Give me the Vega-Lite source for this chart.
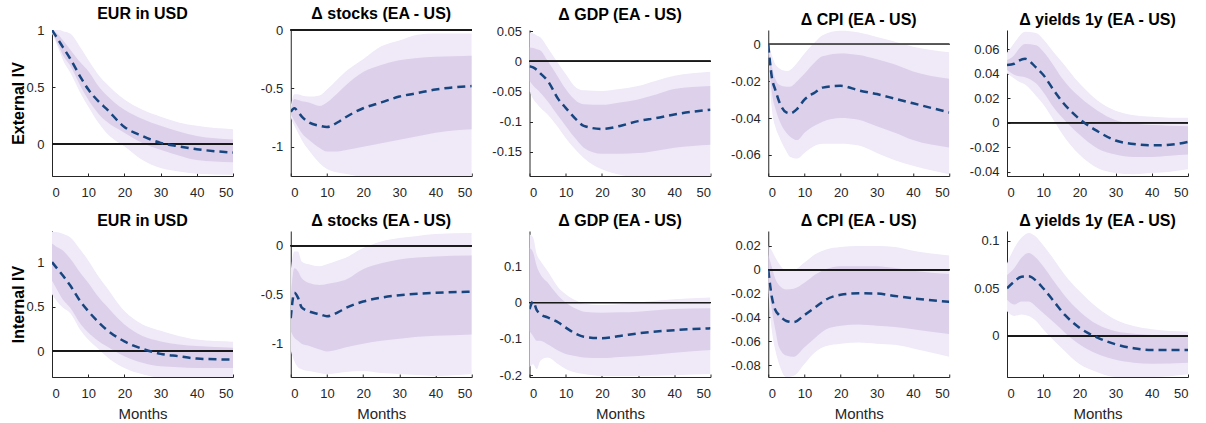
{
"$schema":"https://vega.github.io/schema/vega-lite/v6.json",
"background":"white",
"padding":{"left":9,"top":6,"right":5,"bottom":5},
"bounds":"flush",
"columns":5,
"spacing":{"row":55,"column":57.75},
"datasets":{"d":[
{"p":1,"m":0,"lo90":0.97,"lo68":0.98,"irf":1,"hi68":1,"hi90":1},
{"p":1,"m":1,"lo90":0.9,"lo68":0.92,"irf":0.95,"hi68":0.98,"hi90":1},
{"p":1,"m":2,"lo90":0.82,"lo68":0.85,"irf":0.9,"hi68":0.95,"hi90":1},
{"p":1,"m":3,"lo90":0.74,"lo68":0.78,"irf":0.85,"hi68":0.91,"hi90":0.99},
{"p":1,"m":5,"lo90":0.63,"lo68":0.69,"irf":0.75,"hi68":0.83,"hi90":0.97},
{"p":1,"m":8,"lo90":0.44,"lo68":0.5,"irf":0.58,"hi68":0.71,"hi90":0.84},
{"p":1,"m":10,"lo90":0.33,"lo68":0.39,"irf":0.48,"hi68":0.64,"hi90":0.74},
{"p":1,"m":13,"lo90":0.18,"lo68":0.26,"irf":0.37,"hi68":0.5,"hi90":0.6},
{"p":1,"m":15,"lo90":0.1,"lo68":0.2,"irf":0.31,"hi68":0.43,"hi90":0.53},
{"p":1,"m":20,"lo90":-0.02,"lo68":0.1,"irf":0.15,"hi68":0.3,"hi90":0.39},
{"p":1,"m":25,"lo90":-0.14,"lo68":0.01,"irf":0.07,"hi68":0.22,"hi90":0.3},
{"p":1,"m":30,"lo90":-0.21,"lo68":-0.05,"irf":0.01,"hi68":0.16,"hi90":0.24},
{"p":1,"m":35,"lo90":-0.24,"lo68":-0.1,"irf":-0.02,"hi68":0.11,"hi90":0.19},
{"p":1,"m":40,"lo90":-0.26,"lo68":-0.14,"irf":-0.045,"hi68":0.07,"hi90":0.16},
{"p":1,"m":50,"lo90":-0.27,"lo68":-0.16,"irf":-0.075,"hi68":0.04,"hi90":0.13},

{"p":2,"m":0,"lo90":-0.75,"lo68":-0.72,"irf":-0.7,"hi68":-0.68,"hi90":-0.65},
{"p":2,"m":1,"lo90":-0.82,"lo68":-0.78,"irf":-0.67,"hi68":-0.59,"hi90":-0.55},
{"p":2,"m":2,"lo90":-0.88,"lo68":-0.83,"irf":-0.7,"hi68":-0.6,"hi90":-0.55},
{"p":2,"m":3,"lo90":-0.94,"lo68":-0.88,"irf":-0.74,"hi68":-0.61,"hi90":-0.56},
{"p":2,"m":5,"lo90":-1.03,"lo68":-0.94,"irf":-0.79,"hi68":-0.62,"hi90":-0.57},
{"p":2,"m":8,"lo90":-1.14,"lo68":-1.01,"irf":-0.82,"hi68":-0.65,"hi90":-0.56},
{"p":2,"m":10,"lo90":-1.19,"lo68":-1.04,"irf":-0.83,"hi68":-0.62,"hi90":-0.51},
{"p":2,"m":13,"lo90":-1.22,"lo68":-1.04,"irf":-0.79,"hi68":-0.54,"hi90":-0.42},
{"p":2,"m":15,"lo90":-1.23,"lo68":-1.03,"irf":-0.75,"hi68":-0.48,"hi90":-0.36},
{"p":2,"m":20,"lo90":-1.26,"lo68":-1.0,"irf":-0.67,"hi68":-0.36,"hi90":-0.25},
{"p":2,"m":25,"lo90":-1.27,"lo68":-0.97,"irf":-0.62,"hi68":-0.3,"hi90":-0.14},
{"p":2,"m":30,"lo90":-1.27,"lo68":-0.94,"irf":-0.57,"hi68":-0.26,"hi90":-0.09},
{"p":2,"m":35,"lo90":-1.27,"lo68":-0.91,"irf":-0.54,"hi68":-0.24,"hi90":-0.04},
{"p":2,"m":40,"lo90":-1.27,"lo68":-0.88,"irf":-0.51,"hi68":-0.23,"hi90":-0.03},
{"p":2,"m":50,"lo90":-1.27,"lo68":-0.85,"irf":-0.48,"hi68":-0.22,"hi90":-0.03},

{"p":3,"m":0,"lo90":-0.049,"lo68":-0.032,"irf":-0.008,"hi68":0.023,"hi90":0.048},
{"p":3,"m":1,"lo90":-0.062,"lo68":-0.04,"irf":-0.01,"hi68":0.022,"hi90":0.046},
{"p":3,"m":2,"lo90":-0.07,"lo68":-0.046,"irf":-0.014,"hi68":0.02,"hi90":0.043},
{"p":3,"m":3,"lo90":-0.077,"lo68":-0.052,"irf":-0.02,"hi68":0.018,"hi90":0.04},
{"p":3,"m":5,"lo90":-0.088,"lo68":-0.066,"irf":-0.032,"hi68":0.001,"hi90":0.023},
{"p":3,"m":8,"lo90":-0.11,"lo68":-0.091,"irf":-0.063,"hi68":-0.027,"hi90":-0.004},
{"p":3,"m":10,"lo90":-0.127,"lo68":-0.107,"irf":-0.077,"hi68":-0.046,"hi90":-0.021},
{"p":3,"m":13,"lo90":-0.148,"lo68":-0.13,"irf":-0.097,"hi68":-0.066,"hi90":-0.044},
{"p":3,"m":15,"lo90":-0.16,"lo68":-0.143,"irf":-0.107,"hi68":-0.071,"hi90":-0.048},
{"p":3,"m":20,"lo90":-0.179,"lo68":-0.153,"irf":-0.112,"hi68":-0.072,"hi90":-0.049},
{"p":3,"m":25,"lo90":-0.188,"lo68":-0.153,"irf":-0.107,"hi68":-0.068,"hi90":-0.046},
{"p":3,"m":30,"lo90":-0.192,"lo68":-0.152,"irf":-0.099,"hi68":-0.063,"hi90":-0.041},
{"p":3,"m":35,"lo90":-0.192,"lo68":-0.148,"irf":-0.094,"hi68":-0.055,"hi90":-0.032},
{"p":3,"m":40,"lo90":-0.192,"lo68":-0.143,"irf":-0.088,"hi68":-0.046,"hi90":-0.024},
{"p":3,"m":50,"lo90":-0.192,"lo68":-0.138,"irf":-0.08,"hi68":-0.041,"hi90":-0.017},

{"p":4,"m":0,"lo90":-0.004,"lo68":-0.003,"irf":0,"hi68":0,"hi90":0},
{"p":4,"m":1,"lo90":-0.035,"lo68":-0.026,"irf":-0.018,"hi68":-0.012,"hi90":-0.006},
{"p":4,"m":2,"lo90":-0.045,"lo68":-0.035,"irf":-0.025,"hi68":-0.019,"hi90":-0.011},
{"p":4,"m":3,"lo90":-0.05,"lo68":-0.041,"irf":-0.031,"hi68":-0.022,"hi90":-0.013},
{"p":4,"m":5,"lo90":-0.058,"lo68":-0.048,"irf":-0.037,"hi68":-0.023,"hi90":-0.0145},
{"p":4,"m":6,"lo90":-0.061,"lo68":-0.05,"irf":-0.0375,"hi68":-0.023,"hi90":-0.014},
{"p":4,"m":8,"lo90":-0.062,"lo68":-0.052,"irf":-0.035,"hi68":-0.02,"hi90":-0.01},
{"p":4,"m":10,"lo90":-0.059,"lo68":-0.048,"irf":-0.03,"hi68":-0.016,"hi90":-0.005},
{"p":4,"m":13,"lo90":-0.055,"lo68":-0.044,"irf":-0.026,"hi68":-0.0094,"hi90":0.0014},
{"p":4,"m":15,"lo90":-0.054,"lo68":-0.042,"irf":-0.0235,"hi68":-0.0065,"hi90":0.005},
{"p":4,"m":20,"lo90":-0.054,"lo68":-0.04,"irf":-0.0225,"hi68":-0.0049,"hi90":0.0074},
{"p":4,"m":25,"lo90":-0.055,"lo68":-0.041,"irf":-0.025,"hi68":-0.0058,"hi90":0.0065},
{"p":4,"m":30,"lo90":-0.059,"lo68":-0.0445,"irf":-0.027,"hi68":-0.0081,"hi90":0.004},
{"p":4,"m":35,"lo90":-0.063,"lo68":-0.048,"irf":-0.0295,"hi68":-0.011,"hi90":0.0014},
{"p":4,"m":40,"lo90":-0.066,"lo68":-0.052,"irf":-0.032,"hi68":-0.0148,"hi90":-0.0013},
{"p":4,"m":50,"lo90":-0.0706,"lo68":-0.056,"irf":-0.037,"hi68":-0.0187,"hi90":-0.0043},

{"p":5,"m":0,"lo90":0.04,"lo68":0.043,"irf":0.047,"hi68":0.051,"hi90":0.057},
{"p":5,"m":2,"lo90":0.036,"lo68":0.039,"irf":0.048,"hi68":0.055,"hi90":0.065},
{"p":5,"m":3,"lo90":0.034,"lo68":0.038,"irf":0.05,"hi68":0.059,"hi90":0.069},
{"p":5,"m":5,"lo90":0.031,"lo68":0.037,"irf":0.052,"hi68":0.064,"hi90":0.074},
{"p":5,"m":8,"lo90":0.022,"lo68":0.032,"irf":0.045,"hi68":0.063,"hi90":0.073},
{"p":5,"m":10,"lo90":0.015,"lo68":0.025,"irf":0.039,"hi68":0.058,"hi90":0.068},
{"p":5,"m":13,"lo90":0.0014,"lo68":0.012,"irf":0.026,"hi68":0.046,"hi90":0.057},
{"p":5,"m":15,"lo90":-0.008,"lo68":0.005,"irf":0.018,"hi68":0.037,"hi90":0.05},
{"p":5,"m":20,"lo90":-0.026,"lo68":-0.0097,"irf":0.003,"hi68":0.021,"hi90":0.032},
{"p":5,"m":25,"lo90":-0.037,"lo68":-0.021,"irf":-0.007,"hi68":0.0097,"hi90":0.018},
{"p":5,"m":30,"lo90":-0.041,"lo68":-0.026,"irf":-0.0146,"hi68":0.002,"hi90":0.0097},
{"p":5,"m":35,"lo90":-0.042,"lo68":-0.028,"irf":-0.0174,"hi68":-0.0008,"hi90":0.006},
{"p":5,"m":40,"lo90":-0.041,"lo68":-0.028,"irf":-0.0185,"hi68":-0.002,"hi90":0.0047},
{"p":5,"m":45,"lo90":-0.04,"lo68":-0.027,"irf":-0.018,"hi68":-0.0025,"hi90":0.004},
{"p":5,"m":50,"lo90":-0.038,"lo68":-0.026,"irf":-0.0157,"hi68":-0.003,"hi90":0.004},

{"p":6,"m":0,"lo90":0.64,"lo68":0.79,"irf":1,"hi68":1.21,"hi90":1.34},
{"p":6,"m":1,"lo90":0.58,"lo68":0.72,"irf":0.95,"hi68":1.18,"hi90":1.34},
{"p":6,"m":3,"lo90":0.49,"lo68":0.58,"irf":0.85,"hi68":1.13,"hi90":1.32},
{"p":6,"m":5,"lo90":0.43,"lo68":0.49,"irf":0.74,"hi68":1.04,"hi90":1.28},
{"p":6,"m":8,"lo90":0.23,"lo68":0.3,"irf":0.55,"hi68":0.87,"hi90":1.13},
{"p":6,"m":10,"lo90":0.13,"lo68":0.21,"irf":0.45,"hi68":0.77,"hi90":1.02},
{"p":6,"m":13,"lo90":0.02,"lo68":0.11,"irf":0.32,"hi68":0.6,"hi90":0.83},
{"p":6,"m":15,"lo90":-0.057,"lo68":0.057,"irf":0.245,"hi68":0.51,"hi90":0.72},
{"p":6,"m":20,"lo90":-0.19,"lo68":-0.057,"irf":0.11,"hi68":0.3,"hi90":0.45},
{"p":6,"m":25,"lo90":-0.26,"lo68":-0.13,"irf":0.026,"hi68":0.17,"hi90":0.3},
{"p":6,"m":30,"lo90":-0.3,"lo68":-0.17,"irf":-0.03,"hi68":0.11,"hi90":0.23},
{"p":6,"m":35,"lo90":-0.31,"lo68":-0.18,"irf":-0.057,"hi68":0.075,"hi90":0.17},
{"p":6,"m":40,"lo90":-0.31,"lo68":-0.19,"irf":-0.083,"hi68":0.057,"hi90":0.13},
{"p":6,"m":50,"lo90":-0.31,"lo68":-0.19,"irf":-0.094,"hi68":0.038,"hi90":0.106},

{"p":7,"m":0,"lo90":-1.07,"lo68":-0.87,"irf":-0.74,"hi68":-0.53,"hi90":-0.26},
{"p":7,"m":1,"lo90":-1.18,"lo68":-0.94,"irf":-0.48,"hi68":-0.23,"hi90":-0.06},
{"p":7,"m":2,"lo90":-1.24,"lo68":-0.97,"irf":-0.53,"hi68":-0.26,"hi90":-0.06},
{"p":7,"m":3,"lo90":-1.26,"lo68":-1.0,"irf":-0.63,"hi68":-0.33,"hi90":-0.16},
{"p":7,"m":5,"lo90":-1.28,"lo68":-1.02,"irf":-0.67,"hi68":-0.38,"hi90":-0.19},
{"p":7,"m":8,"lo90":-1.3,"lo68":-1.06,"irf":-0.7,"hi68":-0.4,"hi90":-0.21},
{"p":7,"m":10,"lo90":-1.31,"lo68":-1.08,"irf":-0.72,"hi68":-0.39,"hi90":-0.19},
{"p":7,"m":13,"lo90":-1.3,"lo68":-1.06,"irf":-0.68,"hi68":-0.37,"hi90":-0.15},
{"p":7,"m":15,"lo90":-1.29,"lo68":-1.04,"irf":-0.64,"hi68":-0.35,"hi90":-0.125},
{"p":7,"m":20,"lo90":-1.28,"lo68":-1.0,"irf":-0.57,"hi68":-0.24,"hi90":-0.024},
{"p":7,"m":25,"lo90":-1.3,"lo68":-0.97,"irf":-0.53,"hi68":-0.18,"hi90":0.044},
{"p":7,"m":30,"lo90":-1.31,"lo68":-0.95,"irf":-0.505,"hi68":-0.14,"hi90":0.078},
{"p":7,"m":35,"lo90":-1.32,"lo68":-0.93,"irf":-0.49,"hi68":-0.12,"hi90":0.1},
{"p":7,"m":40,"lo90":-1.33,"lo68":-0.92,"irf":-0.48,"hi68":-0.11,"hi90":0.12},
{"p":7,"m":50,"lo90":-1.31,"lo68":-0.905,"irf":-0.47,"hi68":-0.1,"hi90":0.13},

{"p":8,"m":0,"lo90":-0.179,"lo68":-0.078,"irf":-0.018,"hi68":0.151,"hi90":0.188},
{"p":8,"m":1,"lo90":-0.17,"lo68":-0.092,"irf":0.003,"hi68":0.138,"hi90":0.179},
{"p":8,"m":2,"lo90":-0.183,"lo68":-0.105,"irf":-0.021,"hi68":0.1,"hi90":0.133},
{"p":8,"m":3,"lo90":-0.16,"lo68":-0.105,"irf":-0.032,"hi68":0.078,"hi90":0.115},
{"p":8,"m":5,"lo90":-0.151,"lo68":-0.115,"irf":-0.041,"hi68":0.055,"hi90":0.087},
{"p":8,"m":8,"lo90":-0.17,"lo68":-0.133,"irf":-0.055,"hi68":0.018,"hi90":0.041},
{"p":8,"m":10,"lo90":-0.183,"lo68":-0.142,"irf":-0.069,"hi68":0,"hi90":0.023},
{"p":8,"m":13,"lo90":-0.193,"lo68":-0.148,"irf":-0.087,"hi68":-0.018,"hi90":0.005},
{"p":8,"m":15,"lo90":-0.197,"lo68":-0.151,"irf":-0.094,"hi68":-0.025,"hi90":-0.003},
{"p":8,"m":20,"lo90":-0.202,"lo68":-0.153,"irf":-0.098,"hi68":-0.028,"hi90":-0.007},
{"p":8,"m":25,"lo90":-0.202,"lo68":-0.15,"irf":-0.092,"hi68":-0.027,"hi90":-0.005},
{"p":8,"m":30,"lo90":-0.202,"lo68":-0.147,"irf":-0.085,"hi68":-0.025,"hi90":0},
{"p":8,"m":40,"lo90":-0.2,"lo68":-0.138,"irf":-0.076,"hi68":-0.018,"hi90":0.009},
{"p":8,"m":50,"lo90":-0.197,"lo68":-0.131,"irf":-0.071,"hi68":-0.016,"hi90":0.014},

{"p":9,"m":0,"lo90":-0.018,"lo68":-0.012,"irf":0,"hi68":0.013,"hi90":0.02},
{"p":9,"m":1,"lo90":-0.051,"lo68":-0.034,"irf":-0.023,"hi68":0.002,"hi90":0.016},
{"p":9,"m":2,"lo90":-0.068,"lo68":-0.051,"irf":-0.034,"hi68":-0.008,"hi90":0.01},
{"p":9,"m":3,"lo90":-0.079,"lo68":-0.065,"irf":-0.038,"hi68":-0.013,"hi90":0.005},
{"p":9,"m":5,"lo90":-0.09,"lo68":-0.072,"irf":-0.043,"hi68":-0.0165,"hi90":-0.001},
{"p":9,"m":7,"lo90":-0.089,"lo68":-0.073,"irf":-0.044,"hi68":-0.016,"hi90":-0.0005},
{"p":9,"m":10,"lo90":-0.079,"lo68":-0.065,"irf":-0.038,"hi68":-0.011,"hi90":0.006},
{"p":9,"m":13,"lo90":-0.069,"lo68":-0.057,"irf":-0.0315,"hi68":-0.004,"hi90":0.013},
{"p":9,"m":16,"lo90":-0.064,"lo68":-0.05,"irf":-0.025,"hi68":0.0006,"hi90":0.017},
{"p":9,"m":20,"lo90":-0.062,"lo68":-0.047,"irf":-0.021,"hi68":0.003,"hi90":0.019},
{"p":9,"m":25,"lo90":-0.061,"lo68":-0.046,"irf":-0.0198,"hi68":0.003,"hi90":0.02},
{"p":9,"m":30,"lo90":-0.062,"lo68":-0.047,"irf":-0.02,"hi68":0.003,"hi90":0.02},
{"p":9,"m":35,"lo90":-0.063,"lo68":-0.048,"irf":-0.022,"hi68":0.0014,"hi90":0.019},
{"p":9,"m":40,"lo90":-0.066,"lo68":-0.05,"irf":-0.024,"hi68":-0.0008,"hi90":0.016},
{"p":9,"m":50,"lo90":-0.073,"lo68":-0.054,"irf":-0.027,"hi68":-0.0036,"hi90":0.012},

{"p":10,"m":0,"lo90":0.026,"lo68":0.038,"irf":0.05,"hi68":0.064,"hi90":0.076},
{"p":10,"m":2,"lo90":0.021,"lo68":0.033,"irf":0.057,"hi68":0.071,"hi90":0.092},
{"p":10,"m":4,"lo90":0.0226,"lo68":0.036,"irf":0.062,"hi68":0.082,"hi90":0.103},
{"p":10,"m":6,"lo90":0.021,"lo68":0.036,"irf":0.0625,"hi68":0.087,"hi90":0.108},
{"p":10,"m":8,"lo90":0.016,"lo68":0.031,"irf":0.058,"hi68":0.082,"hi90":0.104},
{"p":10,"m":10,"lo90":0.007,"lo68":0.024,"irf":0.05,"hi68":0.073,"hi90":0.095},
{"p":10,"m":13,"lo90":-0.005,"lo68":0.014,"irf":0.036,"hi68":0.057,"hi90":0.08},
{"p":10,"m":16,"lo90":-0.016,"lo68":0.0035,"irf":0.022,"hi68":0.042,"hi90":0.064},
{"p":10,"m":20,"lo90":-0.0295,"lo68":-0.0087,"irf":0.0087,"hi68":0.026,"hi90":0.047},
{"p":10,"m":25,"lo90":-0.038,"lo68":-0.019,"irf":-0.0017,"hi68":0.012,"hi90":0.0295},
{"p":10,"m":30,"lo90":-0.043,"lo68":-0.025,"irf":-0.0087,"hi68":0.005,"hi90":0.017},
{"p":10,"m":35,"lo90":-0.043,"lo68":-0.028,"irf":-0.0128,"hi68":0.0024,"hi90":0.0104},
{"p":10,"m":40,"lo90":-0.043,"lo68":-0.029,"irf":-0.0146,"hi68":0.001,"hi90":0.007},
{"p":10,"m":50,"lo90":-0.04,"lo68":-0.028,"irf":-0.0146,"hi68":0,"hi90":0.0045}
]},
"data":{"name":"d"},
"concat":[
{"width":181,"height":146,"title":"EUR in USD","transform":[{"filter":"datum.p==1"}],
"encoding":{"x":{"field":"m","type":"quantitative","scale":{"domain":[0,50],"nice":false},"axis":{"values":[0,10,20,30,40,50],"title":null}}},
"layer":[
{"mark":{"type":"area","color":"#efe9f8","interpolate":"monotone","clip":true},"encoding":{"y":{"field":"lo90","type":"quantitative","title":"External IV","scale":{"domain":[-0.28,1],"nice":false,"zero":false},"axis":{"values":[0,0.5,1],"labelExpr":"''+datum.value","titleX":-29,"titleY":73,"titleBaseline":"alphabetic"}},"y2":{"field":"hi90"}}},
{"mark":{"type":"area","color":"#dcd0ea","interpolate":"monotone","clip":true},"encoding":{"y":{"field":"lo68","type":"quantitative","title":"External IV"},"y2":{"field":"hi68"}}},
{"mark":{"type":"rule","color":"#1a1a1a","strokeWidth":1},"encoding":{"x":{"datum":0,"type":"quantitative"},"x2":{"datum":50},"y":{"datum":0,"type":"quantitative","title":"External IV"}}},
{"mark":{"type":"line","color":"#17457f","strokeWidth":2.5,"strokeDash":[8,5],"interpolate":"monotone","clip":true},"encoding":{"y":{"field":"irf","type":"quantitative","title":"External IV"}}}
]},
{"width":181,"height":146,"title":"Δ stocks (EA - US)","transform":[{"filter":"datum.p==2"}],
"encoding":{"x":{"field":"m","type":"quantitative","scale":{"domain":[0,50],"nice":false},"axis":{"values":[0,10,20,30,40,50],"title":null}}},
"layer":[
{"mark":{"type":"area","color":"#efe9f8","interpolate":"monotone","clip":true},"encoding":{"y":{"field":"lo90","type":"quantitative","title":null,"scale":{"domain":[-1.25,0],"nice":false,"zero":false},"axis":{"values":[-1,-0.5,0],"labelExpr":"''+datum.value"}},"y2":{"field":"hi90"}}},
{"mark":{"type":"area","color":"#dcd0ea","interpolate":"monotone","clip":true},"encoding":{"y":{"field":"lo68","type":"quantitative","title":null},"y2":{"field":"hi68"}}},
{"mark":{"type":"rule","color":"#1a1a1a","strokeWidth":1},"encoding":{"x":{"datum":0,"type":"quantitative"},"x2":{"datum":50},"y":{"datum":0,"type":"quantitative","title":null}}},
{"mark":{"type":"line","color":"#17457f","strokeWidth":2.5,"strokeDash":[8,5],"interpolate":"monotone","clip":true},"encoding":{"y":{"field":"irf","type":"quantitative","title":null}}}
]},
{"width":181,"height":146,"title":"Δ GDP (EA - US)","transform":[{"filter":"datum.p==3"}],
"encoding":{"x":{"field":"m","type":"quantitative","scale":{"domain":[0,50],"nice":false},"axis":{"values":[0,10,20,30,40,50],"title":null}}},
"layer":[
{"mark":{"type":"area","color":"#efe9f8","interpolate":"monotone","clip":true},"encoding":{"y":{"field":"lo90","type":"quantitative","title":null,"scale":{"domain":[-0.19,0.052],"nice":false,"zero":false},"axis":{"values":[-0.15,-0.1,-0.05,0,0.05],"labelExpr":"''+datum.value"}},"y2":{"field":"hi90"}}},
{"mark":{"type":"area","color":"#dcd0ea","interpolate":"monotone","clip":true},"encoding":{"y":{"field":"lo68","type":"quantitative","title":null},"y2":{"field":"hi68"}}},
{"mark":{"type":"rule","color":"#1a1a1a","strokeWidth":1},"encoding":{"x":{"datum":0,"type":"quantitative"},"x2":{"datum":50},"y":{"datum":0,"type":"quantitative","title":null}}},
{"mark":{"type":"line","color":"#17457f","strokeWidth":2.5,"strokeDash":[8,5],"interpolate":"monotone","clip":true},"encoding":{"y":{"field":"irf","type":"quantitative","title":null}}}
]},
{"width":181,"height":146,"title":"Δ CPI (EA - US)","transform":[{"filter":"datum.p==4"}],
"encoding":{"x":{"field":"m","type":"quantitative","scale":{"domain":[0,50],"nice":false},"axis":{"values":[0,10,20,30,40,50],"title":null}}},
"layer":[
{"mark":{"type":"area","color":"#efe9f8","interpolate":"monotone","clip":true},"encoding":{"y":{"field":"lo90","type":"quantitative","title":null,"scale":{"domain":[-0.0715,0.0078],"nice":false,"zero":false},"axis":{"values":[-0.06,-0.04,-0.02,0],"labelExpr":"''+datum.value"}},"y2":{"field":"hi90"}}},
{"mark":{"type":"area","color":"#dcd0ea","interpolate":"monotone","clip":true},"encoding":{"y":{"field":"lo68","type":"quantitative","title":null},"y2":{"field":"hi68"}}},
{"mark":{"type":"rule","color":"#555555","strokeWidth":1},"encoding":{"x":{"datum":0,"type":"quantitative"},"x2":{"datum":50},"y":{"datum":0,"type":"quantitative","title":null}}},
{"mark":{"type":"line","color":"#17457f","strokeWidth":2.5,"strokeDash":[8,5],"interpolate":"monotone","clip":true},"encoding":{"y":{"field":"irf","type":"quantitative","title":null}}}
]},
{"width":181,"height":146,"title":"Δ yields 1y (EA - US)","transform":[{"filter":"datum.p==5"}],
"encoding":{"x":{"field":"m","type":"quantitative","scale":{"domain":[0,50],"nice":false},"axis":{"values":[0,10,20,30,40,50],"title":null}}},
"layer":[
{"mark":{"type":"area","color":"#efe9f8","interpolate":"monotone","clip":true},"encoding":{"y":{"field":"lo90","type":"quantitative","title":null,"scale":{"domain":[-0.0435,0.0755],"nice":false,"zero":false},"axis":{"values":[-0.04,-0.02,0,0.02,0.04,0.06],"labelExpr":"''+datum.value"}},"y2":{"field":"hi90"}}},
{"mark":{"type":"area","color":"#dcd0ea","interpolate":"monotone","clip":true},"encoding":{"y":{"field":"lo68","type":"quantitative","title":null},"y2":{"field":"hi68"}}},
{"mark":{"type":"rule","color":"#1a1a1a","strokeWidth":1},"encoding":{"x":{"datum":0,"type":"quantitative"},"x2":{"datum":50},"y":{"datum":0,"type":"quantitative","title":null}}},
{"mark":{"type":"line","color":"#17457f","strokeWidth":2.5,"strokeDash":[8,5],"interpolate":"monotone","clip":true},"encoding":{"y":{"field":"irf","type":"quantitative","title":null}}}
]},
{"width":181,"height":146,"title":"EUR in USD","transform":[{"filter":"datum.p==6"}],
"encoding":{"x":{"field":"m","type":"quantitative","scale":{"domain":[0,50],"nice":false},"axis":{"values":[0,10,20,30,40,50],"title":"Months"}}},
"layer":[
{"mark":{"type":"area","color":"#efe9f8","interpolate":"monotone","clip":true},"encoding":{"y":{"field":"lo90","type":"quantitative","title":"Internal IV","scale":{"domain":[-0.29,1.35],"nice":false,"zero":false},"axis":{"values":[0,0.5,1],"labelExpr":"''+datum.value","titleX":-29,"titleY":73,"titleBaseline":"alphabetic"}},"y2":{"field":"hi90"}}},
{"mark":{"type":"area","color":"#dcd0ea","interpolate":"monotone","clip":true},"encoding":{"y":{"field":"lo68","type":"quantitative","title":"Internal IV"},"y2":{"field":"hi68"}}},
{"mark":{"type":"rule","color":"#1a1a1a","strokeWidth":1},"encoding":{"x":{"datum":0,"type":"quantitative"},"x2":{"datum":50},"y":{"datum":0,"type":"quantitative","title":"Internal IV"}}},
{"mark":{"type":"line","color":"#17457f","strokeWidth":2.5,"strokeDash":[8,5],"interpolate":"monotone","clip":true},"encoding":{"y":{"field":"irf","type":"quantitative","title":"Internal IV"}}}
]},
{"width":181,"height":146,"title":"Δ stocks (EA - US)","transform":[{"filter":"datum.p==7"}],
"encoding":{"x":{"field":"m","type":"quantitative","scale":{"domain":[0,50],"nice":false},"axis":{"values":[0,10,20,30,40,50],"title":"Months"}}},
"layer":[
{"mark":{"type":"area","color":"#efe9f8","interpolate":"monotone","clip":true},"encoding":{"y":{"field":"lo90","type":"quantitative","title":null,"scale":{"domain":[-1.34,0.15],"nice":false,"zero":false},"axis":{"values":[-1,-0.5,0],"labelExpr":"''+datum.value"}},"y2":{"field":"hi90"}}},
{"mark":{"type":"area","color":"#dcd0ea","interpolate":"monotone","clip":true},"encoding":{"y":{"field":"lo68","type":"quantitative","title":null},"y2":{"field":"hi68"}}},
{"mark":{"type":"rule","color":"#1a1a1a","strokeWidth":1},"encoding":{"x":{"datum":0,"type":"quantitative"},"x2":{"datum":50},"y":{"datum":0,"type":"quantitative","title":null}}},
{"mark":{"type":"line","color":"#17457f","strokeWidth":2.5,"strokeDash":[8,5],"interpolate":"monotone","clip":true},"encoding":{"y":{"field":"irf","type":"quantitative","title":null}}}
]},
{"width":181,"height":146,"title":"Δ GDP (EA - US)","transform":[{"filter":"datum.p==8"}],
"encoding":{"x":{"field":"m","type":"quantitative","scale":{"domain":[0,50],"nice":false},"axis":{"values":[0,10,20,30,40,50],"title":"Months"}}},
"layer":[
{"mark":{"type":"area","color":"#efe9f8","interpolate":"monotone","clip":true},"encoding":{"y":{"field":"lo90","type":"quantitative","title":null,"scale":{"domain":[-0.205,0.197],"nice":false,"zero":false},"axis":{"values":[-0.2,-0.1,0,0.1],"labelExpr":"''+datum.value"}},"y2":{"field":"hi90"}}},
{"mark":{"type":"area","color":"#dcd0ea","interpolate":"monotone","clip":true},"encoding":{"y":{"field":"lo68","type":"quantitative","title":null},"y2":{"field":"hi68"}}},
{"mark":{"type":"rule","color":"#1a1a1a","strokeWidth":1},"encoding":{"x":{"datum":0,"type":"quantitative"},"x2":{"datum":50},"y":{"datum":0,"type":"quantitative","title":null}}},
{"mark":{"type":"line","color":"#17457f","strokeWidth":2.5,"strokeDash":[8,5],"interpolate":"monotone","clip":true},"encoding":{"y":{"field":"irf","type":"quantitative","title":null}}}
]},
{"width":181,"height":146,"title":"Δ CPI (EA - US)","transform":[{"filter":"datum.p==9"}],
"encoding":{"x":{"field":"m","type":"quantitative","scale":{"domain":[0,50],"nice":false},"axis":{"values":[0,10,20,30,40,50],"title":"Months"}}},
"layer":[
{"mark":{"type":"area","color":"#efe9f8","interpolate":"monotone","clip":true},"encoding":{"y":{"field":"lo90","type":"quantitative","title":null,"scale":{"domain":[-0.09,0.0325],"nice":false,"zero":false},"axis":{"values":[-0.08,-0.06,-0.04,-0.02,0,0.02],"labelExpr":"''+datum.value"}},"y2":{"field":"hi90"}}},
{"mark":{"type":"area","color":"#dcd0ea","interpolate":"monotone","clip":true},"encoding":{"y":{"field":"lo68","type":"quantitative","title":null},"y2":{"field":"hi68"}}},
{"mark":{"type":"rule","color":"#1a1a1a","strokeWidth":1},"encoding":{"x":{"datum":0,"type":"quantitative"},"x2":{"datum":50},"y":{"datum":0,"type":"quantitative","title":null}}},
{"mark":{"type":"line","color":"#17457f","strokeWidth":2.5,"strokeDash":[8,5],"interpolate":"monotone","clip":true},"encoding":{"y":{"field":"irf","type":"quantitative","title":null}}}
]},
{"width":181,"height":146,"title":"Δ yields 1y (EA - US)","transform":[{"filter":"datum.p==10"}],
"encoding":{"x":{"field":"m","type":"quantitative","scale":{"domain":[0,50],"nice":false},"axis":{"values":[0,10,20,30,40,50],"title":"Months"}}},
"layer":[
{"mark":{"type":"area","color":"#efe9f8","interpolate":"monotone","clip":true},"encoding":{"y":{"field":"lo90","type":"quantitative","title":null,"scale":{"domain":[-0.043,0.11],"nice":false,"zero":false},"axis":{"values":[0,0.05,0.1],"labelExpr":"''+datum.value"}},"y2":{"field":"hi90"}}},
{"mark":{"type":"area","color":"#dcd0ea","interpolate":"monotone","clip":true},"encoding":{"y":{"field":"lo68","type":"quantitative","title":null},"y2":{"field":"hi68"}}},
{"mark":{"type":"rule","color":"#1a1a1a","strokeWidth":1},"encoding":{"x":{"datum":0,"type":"quantitative"},"x2":{"datum":50},"y":{"datum":0,"type":"quantitative","title":null}}},
{"mark":{"type":"line","color":"#17457f","strokeWidth":2.5,"strokeDash":[8,5],"interpolate":"monotone","clip":true},"encoding":{"y":{"field":"irf","type":"quantitative","title":null}}}
]}
],
"config":{
"view":{"stroke":null},
"font":"Liberation Sans",
"title":{"fontSize":16,"fontWeight":"bold","color":"#000000","offset":2,"baseline":"alphabetic","frame":"group","anchor":"middle","font":"Liberation Sans"},
"axis":{"grid":false,"domainColor":"#262626","domainWidth":1,"tickColor":"#262626","tickSize":-3,"tickWidth":1,"tickCount":20,"labelColor":"#262626","labelFont":"Liberation Sans","labelFontSize":13,"labelPadding":11,"labelOverlap":false,"titleFont":"Liberation Sans","titleColor":"#262626"},
"axisX":{"titleFontSize":15,"titleFontWeight":"normal","titlePadding":6,"labelPadding":13},
"axisY":{"titleFontSize":16,"titleFontWeight":"bold","titleColor":"#000000"}
}
}
